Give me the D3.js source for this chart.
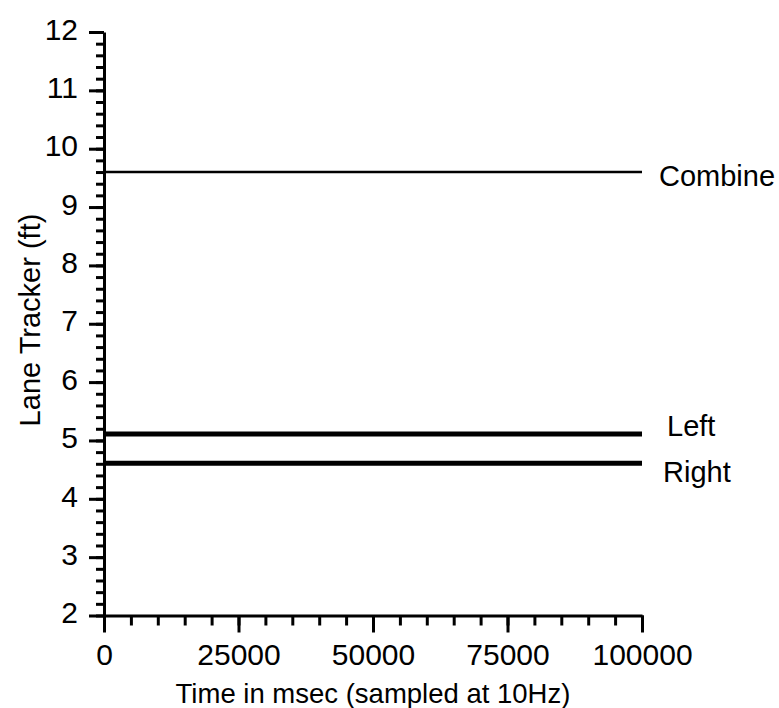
<!DOCTYPE html>
<html>
<head>
<meta charset="utf-8">
<script src="https://cdn.jsdelivr.net/npm/d3@7"></script>
<style>
  body { margin: 0; background: #fff; }
  svg text { font-family: "Liberation Sans", Arial, Helvetica, sans-serif; fill: #000; }
</style>
</head>
<body>
<div id="chart"></div>
<script>
// data
var timeMs = [0, 100000];
var combineFt = [9.6, 9.6];
var leftFt = [5.11, 5.11];
var rightFt = [4.61, 4.61];
var seriesNames = ["Combine", "Left", "Right"];
var xTicks = [0, 25000, 50000, 75000, 100000];
var yTicks = [2, 3, 4, 5, 6, 7, 8, 9, 10, 11, 12];

var W = 779, H = 708;
var margin = {top: 32, right: 137, bottom: 92.5, left: 104},
    width = W - margin.left - margin.right,
    height = H - margin.top - margin.bottom;

var svg = d3.select("#chart")
  .append("svg")
    .attr("width", W)
    .attr("height", H)
  .append("g")
    .attr("transform", "translate(" + margin.left + "," + margin.top + ")");

var x = d3.scaleLinear().domain([0, 100000]).range([0, width]);
var y = d3.scaleLinear().domain([2, 12]).range([height, 0]);

// minor ticks first
svg.append("g")
  .attr("class", "minor")
  .attr("transform", "translate(0," + height + ")")
  .call(d3.axisBottom(x).tickValues(d3.range(0, 100001, 5000)).tickSize(10).tickFormat(""));
svg.append("g")
  .attr("class", "minor")
  .call(d3.axisLeft(y).tickValues(d3.range(20, 121, 2).map(function(d) { return d / 10; })).tickSize(8).tickFormat(""));

// major axes
var xAxis = svg.append("g")
  .attr("transform", "translate(0," + height + ")")
  .call(d3.axisBottom(x).tickValues(xTicks).tickSize(17).tickSizeOuter(0).tickPadding(11).tickFormat(d3.format("d")));
var yAxis = svg.append("g")
  .call(d3.axisLeft(y).tickValues(yTicks).tickSize(15).tickSizeOuter(0).tickPadding(11).tickFormat(d3.format("d")));

svg.selectAll(".domain").attr("stroke", "#000").attr("stroke-width", 3);
svg.selectAll(".tick line").attr("stroke", "#000").attr("stroke-width", 3);
svg.selectAll(".tick text").attr("font-size", "30px").attr("fill", "#000");
svg.selectAll(".minor .domain").remove();
yAxis.selectAll(".tick text").attr("dy", "0.24em");

// lines
var series = [
  {name: "Combine", values: combineFt, width: 2.5, dx: 17, dy: 4},
  {name: "Left", values: leftFt, width: 5, dx: 25, dy: -8},
  {name: "Right", values: rightFt, width: 5, dx: 21, dy: 8}
];

var line = d3.line()
  .x(function(d, i) { return x(timeMs[i]); })
  .y(function(d) { return y(d); });

svg.selectAll(".series")
  .data(series)
  .enter()
  .append("path")
    .attr("class", "series")
    .attr("d", function(d) { return line(d.values); })
    .attr("fill", "none")
    .attr("stroke", "#000")
    .attr("stroke-width", function(d) { return d.width; });

svg.selectAll(".series-label")
  .data(series)
  .enter()
  .append("text")
    .attr("class", "series-label")
    .attr("x", function(d) { return width + d.dx; })
    .attr("y", function(d) { return y(d.values[d.values.length - 1]) + d.dy; })
    .attr("dy", "0.36em")
    .attr("font-size", "29px")
    .text(function(d) { return d.name; });

// axis titles
svg.append("text")
  .attr("x", width / 2)
  .attr("y", height + 87)
  .attr("text-anchor", "middle")
  .attr("font-size", "27.5px")
  .text("Time in msec (sampled at 10Hz)");

svg.append("text")
  .attr("transform", "rotate(-90)")
  .attr("x", -(320 - margin.top))
  .attr("y", -64)
  .attr("text-anchor", "middle")
  .attr("font-size", "29px")
  .text("Lane Tracker (ft)");
</script>
</body>
</html>
